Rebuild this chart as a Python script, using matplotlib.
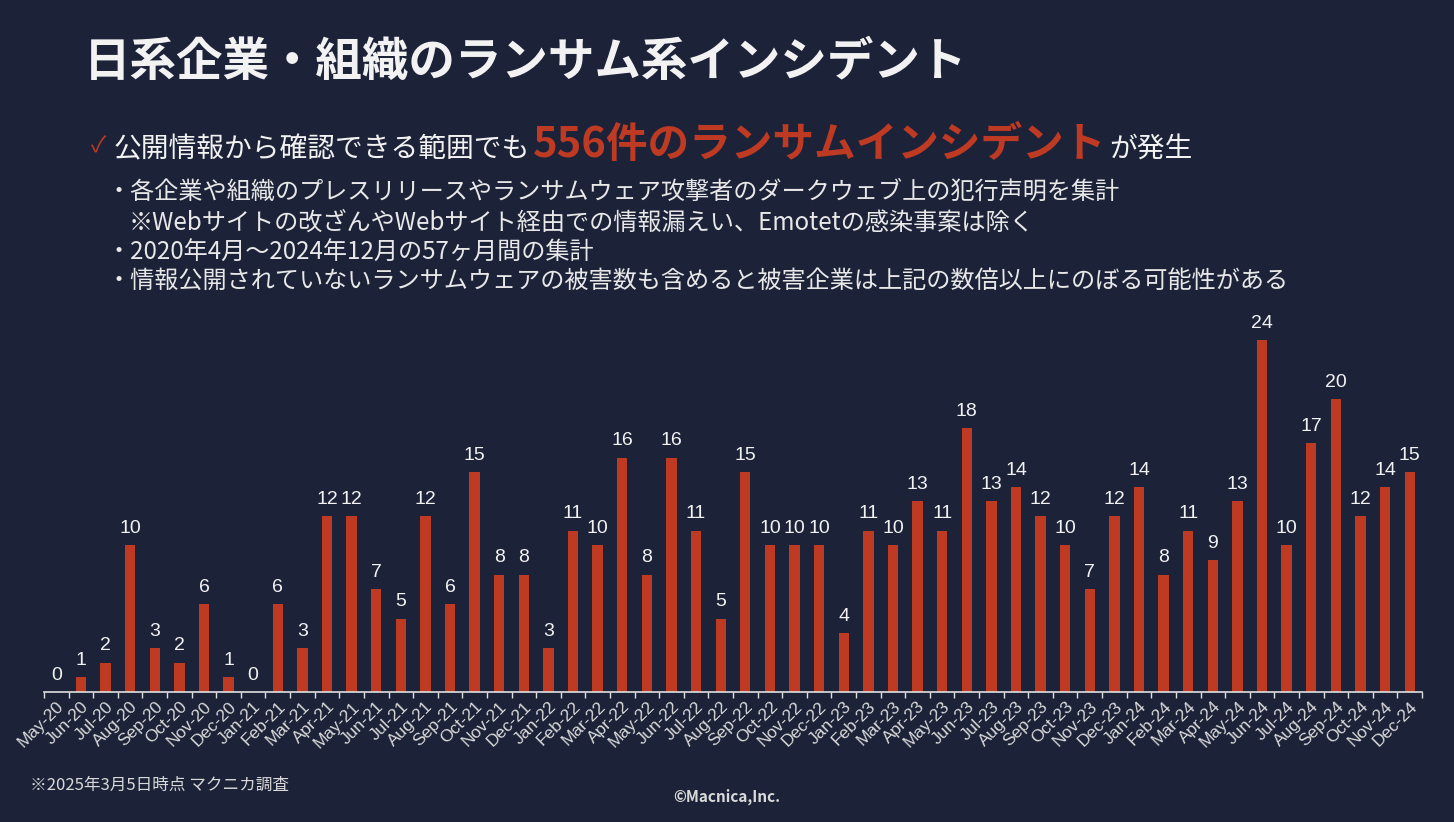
import numpy as np
import matplotlib
matplotlib.use("Agg")
import matplotlib.pyplot as plt

# monthly counts of ransomware incidents
months = ["May-20", "Jun-20", "Jul-20", "Aug-20", "Sep-20", "Oct-20", "Nov-20", "Dec-20",
          "Jan-21", "Feb-21", "Mar-21", "Apr-21", "May-21", "Jun-21", "Jul-21", "Aug-21",
          "Sep-21", "Oct-21", "Nov-21", "Dec-21", "Jan-22", "Feb-22", "Mar-22", "Apr-22",
          "May-22", "Jun-22", "Jul-22", "Aug-22", "Sep-22", "Oct-22", "Nov-22", "Dec-22",
          "Jan-23", "Feb-23", "Mar-23", "Apr-23", "May-23", "Jun-23", "Jul-23", "Aug-23",
          "Sep-23", "Oct-23", "Nov-23", "Dec-23", "Jan-24", "Feb-24", "Mar-24", "Apr-24",
          "May-24", "Jun-24", "Jul-24", "Aug-24", "Sep-24", "Oct-24", "Nov-24", "Dec-24"]
counts = [0, 1, 2, 10, 3, 2, 6, 1,
          0, 6, 3, 12, 12, 7, 5, 12, 6, 15, 8, 8,
          3, 11, 10, 16, 8, 16, 11, 5, 15, 10, 10, 10,
          4, 11, 10, 13, 11, 18, 13, 14, 12, 10, 7, 12,
          14, 8, 11, 9, 13, 24, 10, 17, 20, 12, 14, 15]

title = "日系企業・組織のランサム系インシデント"
lead_white = "公開情報から確認できる範囲でも"
lead_red = "556件のランサムインシデント"
lead_tail = "が発生"
bullets = [
    "・各企業や組織のプレスリリースやランサムウェア攻撃者のダークウェブ上の犯行声明を集計",
    "※Webサイトの改ざんやWebサイト経由での情報漏えい、Emotetの感染事案は除く",
    "・2020年4月～2024年12月の57ヶ月間の集計",
    "・情報公開されていないランサムウェアの被害数も含めると被害企業は上記の数倍以上にのぼる可能性がある",
]
footnote = "※2025年3月5日時点 マクニカ調査"
copyright_txt = "©Macnica,Inc."

BG = "#1c2339"
RED = "#bf3a22"
WHITE = "#f2f2f2"
JP = ["Noto Sans CJK JP", "DejaVu Sans"]

W, H = 1454, 822
fig = plt.figure(figsize=(W / 100, H / 100), dpi=100, facecolor=BG)


def fx(x):
    return x / W


def fy(y):
    return 1 - y / H


# header texts
fig.text(fx(84), fy(62), title, family=JP, fontsize=33.5, fontweight="bold",
         color=WHITE, va="center", ha="left")

fig.text(fx(91), fy(146), "✓", family=JP, fontsize=16, color=RED, va="center", ha="left")

renderer = fig.canvas.get_renderer()
x = 114
for txt, size, col, wt in [(lead_white, 20, WHITE, "normal"),
                           (lead_red, 30, RED, "bold"),
                           (lead_tail, 20, WHITE, "normal")]:
    t = fig.text(fx(x), fy(157), txt, family=JP, fontsize=size, color=col,
                 fontweight=wt, va="baseline", ha="left")
    bb = t.get_window_extent(renderer=renderer)
    x = bb.x1 + 3

bullet_x = [106, 129, 106, 106]
bullet_y = [192, 223, 252, 281]
for txt, bx, by in zip(bullets, bullet_x, bullet_y):
    fig.text(fx(bx), fy(by), txt, family=JP, fontsize=17.4, color="#e8e8e8",
             va="center", ha="left")

fig.text(fx(30), fy(785), footnote, family=JP, fontsize=12, color="#d9d9d9",
         va="center", ha="left")
fig.text(fx(727), fy(797), copyright_txt, family=JP, fontsize=11, fontweight="bold",
         color="#d9d9d9", va="center", ha="center")

# bar chart
ax = fig.add_axes([fx(44), fy(692), fx(1422) - fx(44), (692 - 311) / H])
ax.set_facecolor(BG)
xpos = np.arange(len(months))
bars = ax.bar(xpos, counts, width=0.42, color=RED)
for xi, v in zip(xpos, counts):
    ax.annotate(str(v), (xi, v), xytext=(0, 6), textcoords="offset points",
                ha="center", va="bottom", color=WHITE, fontsize=14,
                family="Liberation Sans")

ax.set_xlim(-0.5, len(months) - 0.5)
ax.set_ylim(0, 26)
ax.set_yticks([])
for s in ["top", "right", "left"]:
    ax.spines[s].set_visible(False)
ax.spines["bottom"].set_color("#e0e0e0")
ax.spines["bottom"].set_linewidth(1.2)

ax.set_xticks(xpos)
ax.set_xticklabels(months, rotation=45, ha="right", rotation_mode="anchor",
                   fontsize=12.5, color="#d9d9d9", family="Liberation Sans")
ax.tick_params(axis="x", which="major", length=0, pad=5)
ax.set_xticks(np.arange(len(months) + 1) - 0.5, minor=True)
ax.tick_params(axis="x", which="minor", length=4, color="#e0e0e0", width=1)

fig.savefig("out.png", dpi=100, facecolor=BG)
